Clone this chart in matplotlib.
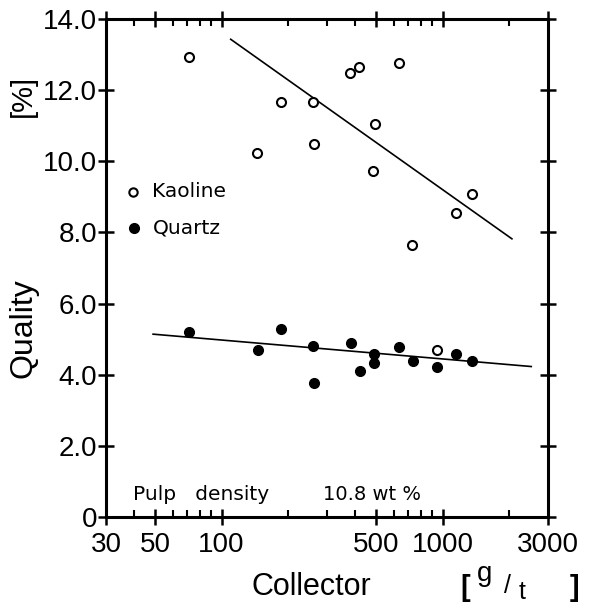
import matplotlib
matplotlib.use("Agg")
import matplotlib.pyplot as plt
from matplotlib.ticker import FixedLocator, NullFormatter

# data
kaoline_x = [71, 145, 186, 258, 262, 382, 419, 635, 495, 486, 1355, 1150, 725, 940]
kaoline_y = [12.94, 10.23, 11.66, 11.67, 10.48, 12.49, 12.65, 12.76, 11.04, 9.72, 9.07, 8.55, 7.65, 4.69]
quartz_x = [71, 146, 186, 260, 262, 385, 421, 492, 492, 635, 736, 944, 1145, 1364]
quartz_y = [5.19, 4.69, 5.28, 4.81, 3.76, 4.90, 4.11, 4.57, 4.32, 4.79, 4.39, 4.23, 4.59, 4.39]
kaoline_fit_x = [110, 2060]
kaoline_fit_y = [13.43, 7.82]
quartz_fit_x = [49, 2520]
quartz_fit_y = [5.14, 4.23]

x_major = [30, 50, 100, 500, 1000, 3000]
x_minor = [40, 60, 70, 80, 90, 200, 300, 400, 600, 700, 800, 900, 2000]
y_ticks = [0, 2, 4, 6, 8, 10, 12, 14]
y_labels = ["0", "2.0", "4.0", "6.0", "8.0", "10.0", "12.0", "14.0"]

FONT = "Liberation Sans"
plt.rcParams["font.family"] = FONT

fig = plt.figure(figsize=(5.93, 6.08), dpi=100)
ax = fig.add_axes([106 / 593, 91 / 608, 442 / 593, 498 / 608])

ax.plot(kaoline_fit_x, kaoline_fit_y, color="black", lw=1.2)
ax.plot(quartz_fit_x, quartz_fit_y, color="black", lw=1.2)
ax.plot(kaoline_x, kaoline_y, "o", ms=6.5, mfc="white", mec="black", mew=1.5, zorder=3)
ax.plot(quartz_x, quartz_y, "o", ms=7, mfc="black", mec="black", zorder=3)

ax.set_xscale("log")
ax.set_xlim(30, 3000)
ax.set_ylim(0, 14)

ax.xaxis.set_major_locator(FixedLocator(x_major))
ax.xaxis.set_minor_locator(FixedLocator(x_minor))
ax.xaxis.set_minor_formatter(NullFormatter())
ax.set_xticklabels([str(v) for v in x_major])
ax.set_yticks(y_ticks)
ax.set_yticklabels(y_labels)

for s in ax.spines.values():
    s.set_linewidth(2.2)

ax.tick_params(axis="both", which="major", direction="inout", length=11, width=1.8,
               labelsize=20, top=True, right=True)
ax.tick_params(axis="x", which="major", pad=5)
ax.tick_params(axis="y", which="major", pad=1)
ax.tick_params(axis="x", which="minor", direction="in", length=5, width=1.5, top=True)

# legend drawn as markers + text
ax.plot([0.062], [0.653], "o", ms=6, mfc="white", mec="black", mew=1.5,
        transform=ax.transAxes, clip_on=False)
ax.text(0.105, 0.653, "Kaoline", transform=ax.transAxes, fontsize=14.5,
        family="DejaVu Sans", va="center")
ax.plot([0.064], [0.580], "o", ms=7, mfc="black", mec="black",
        transform=ax.transAxes, clip_on=False)
ax.text(0.105, 0.580, "Quartz", transform=ax.transAxes, fontsize=14.5,
        family="DejaVu Sans", va="center")

ax.text(0.061, 0.046, "Pulp   density", transform=ax.transAxes, fontsize=14.5,
        family="DejaVu Sans", va="center")
ax.text(0.491, 0.046, "10.8 wt %", transform=ax.transAxes, fontsize=14,
        family="DejaVu Sans", va="center")

fig.text(23 / 593, 1 - 328 / 608, "Quality", rotation=90, fontsize=23,
         ha="center", va="center")
fig.text(23 / 593, 1 - 96 / 608, "[%]", rotation=90, fontsize=21,
         ha="center", va="center")
fig.text(311 / 593, 1 - 587 / 608, "Collector", fontsize=22, ha="center", va="center")
fig.text(465 / 593, 1 - 588 / 608, "[", fontsize=21, fontweight="bold",
         ha="center", va="center")
fig.text(485 / 593, 1 - 574 / 608, "g", fontsize=20, ha="center", va="center")
fig.text(507 / 593, 1 - 586 / 608, "/", fontsize=18, ha="center", va="center")
fig.text(522 / 593, 1 - 592 / 608, "t", fontsize=18, ha="center", va="center")
fig.text(575 / 593, 1 - 588 / 608, "]", fontsize=21, fontweight="bold",
         ha="center", va="center")

fig.savefig("out.png", dpi=100)
